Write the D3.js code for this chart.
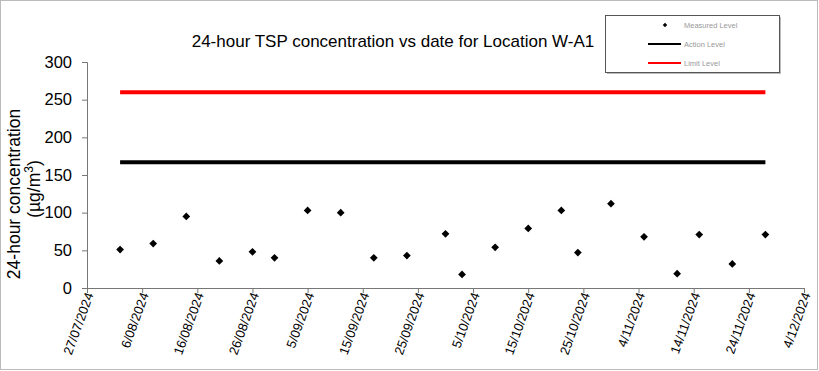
<!DOCTYPE html>
<html>
<head>
<meta charset="utf-8">
<script src="https://cdn.jsdelivr.net/npm/d3@7"></script>
<style>
  body { margin: 0; background: #fff; }
  text { font-family: "Liberation Sans", Arial, sans-serif; }
</style>
</head>
<body>
<svg id="chart" width="819" height="371"></svg>
<script>
// sample dates and measured 24-hour TSP (µg/m³)
const sampleDates = [
  '2/08/2024', '8/08/2024', '14/08/2024', '20/08/2024', '26/08/2024', '30/08/2024',
  '5/09/2024', '11/09/2024', '17/09/2024', '23/09/2024', '30/09/2024', '3/10/2024',
  '9/10/2024', '15/10/2024', '21/10/2024', '24/10/2024', '30/10/2024', '5/11/2024',
  '11/11/2024', '15/11/2024', '21/11/2024', '27/11/2024'
];
const measured = [
  51, 59, 95, 36, 48, 40,
  103, 100, 40, 43, 72, 18,
  54, 79, 103, 47, 112, 68,
  19, 71, 32, 71
];
const actionLevel = 167;
const limitLevel = 260;

const xTickLabels = [
  '27/07/2024', '6/08/2024', '16/08/2024', '26/08/2024', '5/09/2024', '15/09/2024',
  '25/09/2024', '5/10/2024', '15/10/2024', '25/10/2024', '4/11/2024', '14/11/2024',
  '24/11/2024', '4/12/2024'
];
const yTicks = [0, 50, 100, 150, 200, 250, 300];
const legendLabels = ['Measured Level', 'Action Level', 'Limit Level'];

const parse = d3.utcParse('%d/%m/%Y');
const fmt = d3.utcFormat('%-d/%m/%Y');

const svg = d3.select('#chart');

// outer frame
svg.append('rect')
  .attr('x', 0.5).attr('y', 0.5)
  .attr('width', 817).attr('height', 369)
  .attr('fill', 'none')
  .attr('stroke', '#777')
  .attr('stroke-dasharray', '1,1');

const x = d3.scaleUtc()
  .domain([parse(xTickLabels[0]), parse(xTickLabels[xTickLabels.length - 1])])
  .range([87, 804]);
const y = d3.scaleLinear()
  .domain([0, 300])
  .range([288, 62]);

// title
svg.append('text')
  .attr('x', 393).attr('y', 47)
  .attr('text-anchor', 'middle')
  .attr('font-size', 17)
  .text('24-hour TSP concentration vs date for Location W-A1');

// y axis
const yAxis = svg.append('g')
  .attr('transform', 'translate(87,0)')
  .call(d3.axisLeft(y).tickValues(yTicks).tickSize(5).tickPadding(10));
yAxis.select('.domain').attr('stroke', '#777');
yAxis.selectAll('.tick line').attr('stroke', '#777');
yAxis.selectAll('.tick text')
  .attr('font-size', 16.5)
  .attr('fill', '#000')
  .style('font-family', '"Liberation Sans", Arial, sans-serif');

// x axis
const xAxis = svg.append('g')
  .attr('transform', 'translate(0,288)')
  .call(d3.axisBottom(x)
    .tickValues(xTickLabels.map(parse))
    .tickFormat(fmt)
    .tickSize(5));
xAxis.select('.domain').attr('stroke', '#777');
xAxis.selectAll('.tick line').attr('stroke', '#777');
xAxis.selectAll('.tick text')
  .attr('font-size', 13)
  .attr('fill', '#000')
  .style('font-family', '"Liberation Sans", Arial, sans-serif')
  .attr('text-anchor', 'end')
  .attr('dy', '0.35em')
  .attr('transform', 'translate(2,5) rotate(-70)')
  .attr('x', 0).attr('y', 0);

// y axis title
const yTitle = svg.append('g').attr('transform', 'rotate(-90)');
yTitle.append('text')
  .attr('x', -194).attr('y', 20)
  .attr('text-anchor', 'middle')
  .attr('font-size', 17.5)
  .text('24-hour concentration');
const unit = yTitle.append('text')
  .attr('x', -189).attr('y', 40)
  .attr('text-anchor', 'middle')
  .attr('font-size', 17.5);
unit.append('tspan').text('(µg/m');
unit.append('tspan').attr('font-size', 12).attr('dy', -7).text('3');
unit.append('tspan').attr('dy', 7).text(')');

const first = parse(sampleDates[0]);
const last = parse(sampleDates[sampleDates.length - 1]);

// limit & action level lines
svg.append('line')
  .attr('x1', x(first)).attr('x2', x(last))
  .attr('y1', y(limitLevel)).attr('y2', y(limitLevel))
  .attr('stroke', '#ff0000').attr('stroke-width', 4);
svg.append('line')
  .attr('x1', x(first)).attr('x2', x(last))
  .attr('y1', y(actionLevel)).attr('y2', y(actionLevel))
  .attr('stroke', '#000').attr('stroke-width', 4);

// measured points
const diamond = d3.symbol().type(d3.symbolSquare).size(30);
svg.append('g')
  .selectAll('path')
  .data(sampleDates.map((d, i) => ({ date: parse(d), value: measured[i] })))
  .enter()
  .append('path')
  .attr('d', diamond)
  .attr('fill', '#000')
  .attr('transform', d => `translate(${x(d.date)},${y(d.value)}) rotate(45)`);

// legend
const legend = svg.append('g');
legend.append('rect')
  .attr('x', 607).attr('y', 17)
  .attr('width', 174).attr('height', 57)
  .attr('fill', '#bbb');
legend.append('rect')
  .attr('x', 605.5).attr('y', 15.5)
  .attr('width', 174).attr('height', 57)
  .attr('fill', '#fff')
  .attr('stroke', '#555');
const rows = legend.selectAll('g.row')
  .data(legendLabels)
  .enter()
  .append('g')
  .classed('row', true)
  .attr('transform', (d, i) => `translate(0,${25 + i * 19})`);
rows.filter((d, i) => i === 0)
  .append('path')
  .attr('d', d3.symbol().type(d3.symbolSquare).size(10))
  .attr('fill', '#000')
  .attr('transform', 'translate(665,0) rotate(45)');
rows.filter((d, i) => i > 0)
  .append('line')
  .attr('x1', 648).attr('x2', 681)
  .attr('y1', 0).attr('y2', 0)
  .attr('stroke', (d, i) => i === 0 ? '#000' : '#ff0000')
  .attr('stroke-width', 2);
rows.append('text')
  .attr('x', 684).attr('y', 2.5)
  .attr('font-size', 7.5)
  .attr('fill', '#999')
  .text(d => d);
</script>
</body>
</html>
